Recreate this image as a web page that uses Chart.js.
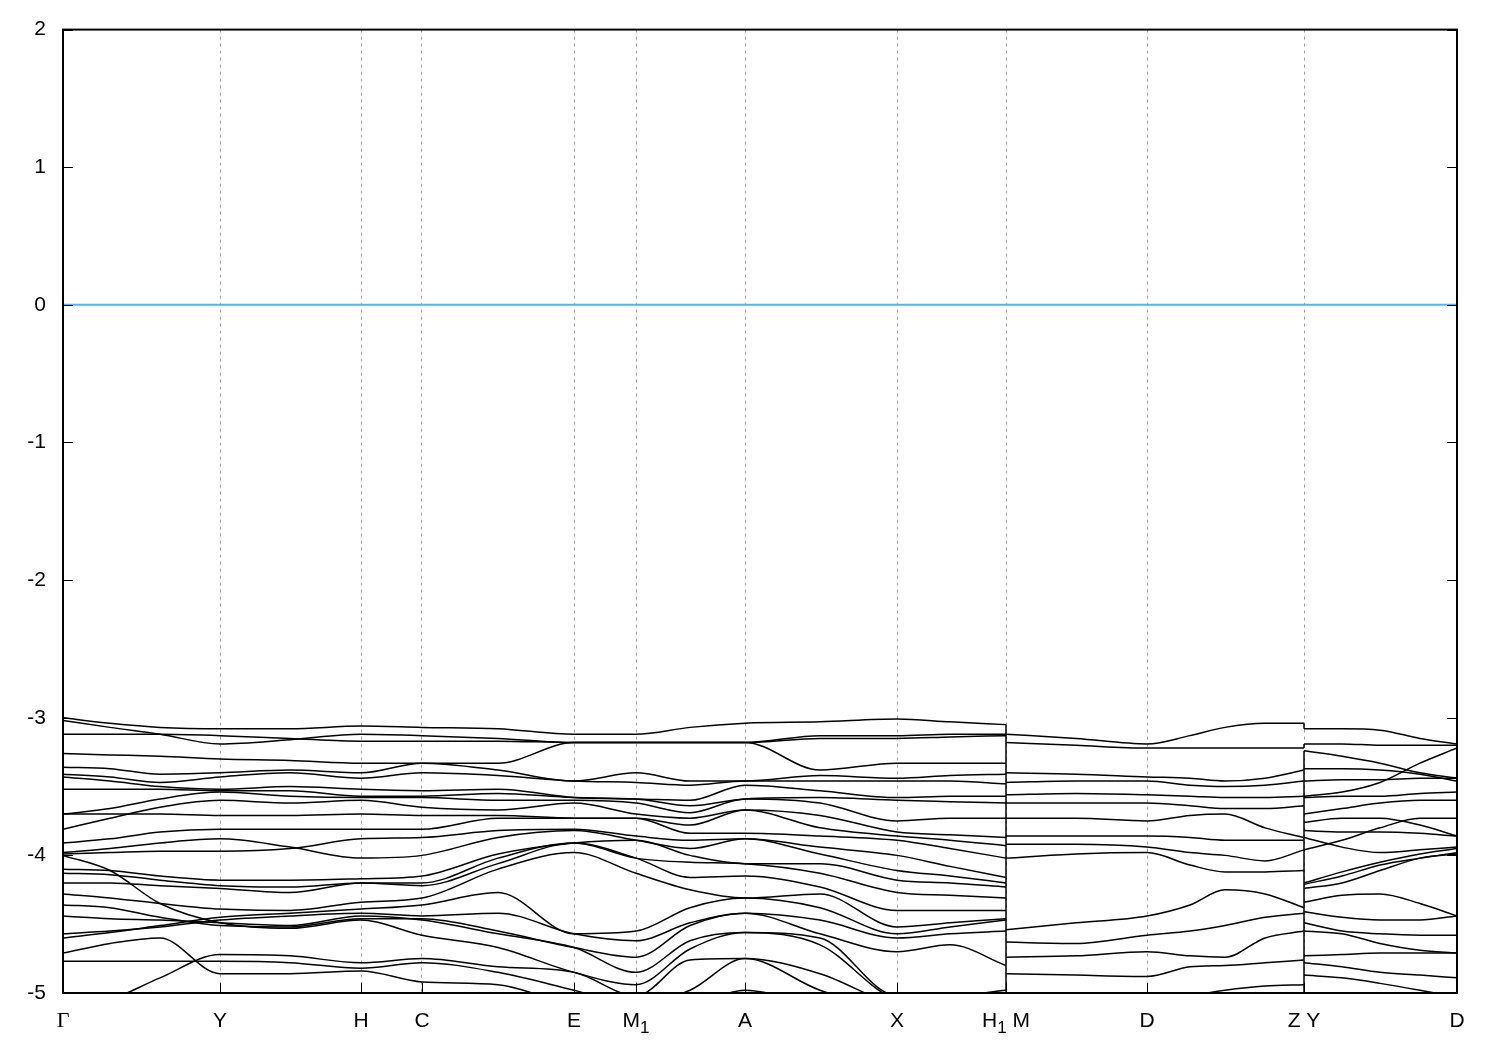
<!DOCTYPE html>
<html>
<head>
<meta charset="utf-8">
<title>Band structure</title>
<script src="https://cdn.jsdelivr.net/npm/chart.js@4.4.1/dist/chart.umd.min.js"></script>
<style>
  html, body { margin: 0; padding: 0; background: #fff; }
</style>
</head>
<body>
<canvas id="bands" width="1500" height="1050"></canvas>
<script>
// k-path distance (arbitrary units) of the sampled k-points, per continuous segment
const kSeg1 = [0, 47, 97, 157, 227, 298, 359, 435, 511, 573, 627, 682, 757, 834, 887, 943]; // Γ ... H1
const kSeg2 = [943, 1013, 1084, 1127, 1162, 1202, 1241];                                  // M ... Z
const kSeg3 = [1241, 1279, 1317, 1357, 1394];                                             // Y ... D

// high-symmetry points ("_" marks a subscript)
const kTicks = [0, 157, 298, 359, 511, 573, 682, 834, 943, 1084, 1241, 1394];
const kLabels = ['Γ', 'Y', 'H', 'C', 'E', 'M_1', 'A', 'X', 'H_1 M', 'D', 'Z Y', 'D'];
const energyTicks = [-5, -4, -3, -2, -1, 0, 1, 2];
const fermiLevel = 0;

// eigenvalues (eV), one row per k-point of segment 1
const eigSeg1 = [
  [-3.00, -3.02, -3.12, -3.26, -3.36, -3.41, -3.43, -3.52, -3.70, -3.81, -3.70, -3.91, -3.99, -3.98, -4.10, -4.13, -4.20, -4.28, -4.60, -4.57, -4.36, -4.44, -4.00, -5.13, -4.77, -4.71],
  [-3.04, -3.07, -3.12, -3.27, -3.37, -3.43, -3.46, -3.52, -3.66, -3.73, -3.70, -3.88, -3.98, -3.95, -4.11, -4.14, -4.20, -4.31, -4.56, -4.55, -4.38, -4.46, -4.11, -5.05, -4.77, -4.64],
  [-3.07, -3.12, -3.12, -3.28, -3.41, -3.47, -3.50, -3.52, -3.59, -3.65, -3.70, -3.83, -3.97, -3.91, -4.15, -4.18, -4.22, -4.35, -4.51, -4.52, -4.45, -4.47, -4.35, -4.89, -4.77, -4.60],
  [-3.08, -3.19, -3.13, -3.30, -3.40, -3.43, -3.52, -3.53, -3.54, -3.60, -3.71, -3.81, -3.97, -3.88, -4.18, -4.22, -4.24, -4.39, -4.45, -4.47, -4.51, -4.49, -4.49, -4.72, -4.77, -4.86],
  [-3.08, -3.16, -3.15, -3.31, -3.38, -3.40, -3.50, -3.53, -3.57, -3.62, -3.71, -3.81, -3.95, -3.94, -4.18, -4.23, -4.27, -4.40, -4.42, -4.44, -4.52, -4.51, -4.53, -4.73, -4.78, -4.86],
  [-3.06, -3.12, -3.17, -3.33, -3.40, -3.44, -3.52, -3.57, -3.58, -3.60, -3.70, -3.81, -3.88, -4.02, -4.17, -4.20, -4.20, -4.34, -4.39, -4.42, -4.46, -4.44, -4.47, -4.78, -4.82, -4.84],
  [-3.07, -3.13, -3.17, -3.33, -3.33, -3.40, -3.53, -3.57, -3.58, -3.65, -3.71, -3.81, -3.87, -4.00, -4.15, -4.20, -4.22, -4.31, -4.36, -4.44, -4.46, -4.47, -4.58, -4.75, -4.78, -4.92],
  [-3.08, -3.15, -3.17, -3.33, -3.38, -3.42, -3.52, -3.55, -3.60, -3.67, -3.71, -3.73, -3.82, -3.87, -3.99, -4.02, -4.06, -4.10, -4.27, -4.42, -4.55, -4.57, -4.67, -4.81, -4.85, -4.94],
  [-3.12, -3.18, -3.18, -3.18, -3.46, -3.46, -3.58, -3.58, -3.60, -3.62, -3.73, -3.73, -3.81, -3.82, -3.91, -3.91, -3.91, -3.98, -4.57, -4.57, -4.67, -4.67, -4.85, -4.85, -4.98, -5.09],
  [-3.12, -3.18, -3.18, -3.18, -3.40, -3.47, -3.59, -3.59, -3.62, -3.70, -3.73, -3.73, -3.86, -3.89, -3.89, -4.02, -4.02, -4.13, -4.55, -4.62, -4.74, -4.85, -4.94, -5.02, -5.09, -5.13],
  [-3.07, -3.18, -3.18, -3.18, -3.46, -3.49, -3.60, -3.64, -3.69, -3.73, -3.78, -3.84, -3.89, -3.95, -4.00, -4.05, -4.16, -4.25, -4.38, -4.49, -4.51, -4.62, -4.68, -4.76, -4.98, -5.09],
  [-3.04, -3.18, -3.18, -3.18, -3.46, -3.46, -3.49, -3.59, -3.59, -3.67, -3.67, -3.84, -3.88, -3.88, -4.06, -4.06, -4.15, -4.31, -4.31, -4.42, -4.42, -4.56, -4.56, -4.75, -4.75, -4.98],
  [-3.03, -3.13, -3.15, -3.38, -3.42, -3.46, -3.53, -3.58, -3.62, -3.71, -3.80, -3.86, -3.94, -3.99, -4.06, -4.13, -4.23, -4.28, -4.38, -4.47, -4.57, -4.60, -4.65, -4.86, -4.98, -5.09],
  [-3.01, -3.13, -3.15, -3.33, -3.44, -3.46, -3.58, -3.60, -3.75, -3.83, -3.86, -3.89, -4.00, -4.11, -4.18, -4.27, -4.40, -4.52, -4.57, -4.60, -4.70, -5.02, -5.05, -5.09, -5.13, -5.16],
  [-3.03, -3.12, -3.14, -3.33, -3.42, -3.46, -3.57, -3.61, -3.73, -3.85, -3.89, -3.95, -4.08, -4.15, -4.20, -4.29, -4.40, -4.49, -4.52, -4.57, -4.65, -5.02, -5.09, -5.13, -5.16, -5.18],
  [-3.05, -3.12, -3.13, -3.33, -3.41, -3.48, -3.57, -3.62, -3.73, -3.87, -3.93, -4.02, -4.16, -4.20, -4.23, -4.31, -4.40, -4.46, -4.47, -4.55, -4.80, -4.98, -5.09, -5.13, -5.16, -5.20]
];

const eigSeg2 = [
  [-3.12, -3.18, -3.40, -3.47, -3.56, -3.62, -3.73, -3.86, -3.92, -4.02, -4.54, -4.63, -4.74, -4.86, -5.05, -5.10, -5.15, -5.20, -5.25, -5.30, -5.35, -5.40, -5.45, -5.50, -5.55, -5.60],
  [-3.15, -3.20, -3.41, -3.46, -3.55, -3.62, -3.73, -3.86, -3.92, -3.99, -4.49, -4.64, -4.73, -4.87, -5.05, -5.10, -5.15, -5.20, -5.25, -5.30, -5.35, -5.40, -5.45, -5.50, -5.55, -5.60],
  [-3.19, -3.22, -3.43, -3.46, -3.56, -3.62, -3.75, -3.86, -3.94, -3.98, -4.44, -4.58, -4.70, -4.88, -5.05, -5.10, -5.15, -5.20, -5.25, -5.30, -5.35, -5.40, -5.45, -5.50, -5.55, -5.60],
  [-3.13, -3.22, -3.44, -3.49, -3.57, -3.64, -3.71, -3.87, -3.98, -4.07, -4.36, -4.55, -4.73, -4.81, -5.02, -5.10, -5.15, -5.20, -5.25, -5.30, -5.35, -5.40, -5.45, -5.50, -5.55, -5.60],
  [-3.07, -3.22, -3.46, -3.50, -3.58, -3.66, -3.70, -3.89, -4.00, -4.12, -4.25, -4.51, -4.74, -4.80, -4.98, -5.10, -5.15, -5.20, -5.25, -5.30, -5.35, -5.40, -5.45, -5.50, -5.55, -5.60],
  [-3.04, -3.22, -3.44, -3.49, -3.58, -3.66, -3.80, -3.89, -4.04, -4.12, -4.28, -4.45, -4.60, -4.78, -4.95, -5.10, -5.15, -5.20, -5.25, -5.30, -5.35, -5.40, -5.45, -5.50, -5.55, -5.60],
  [-3.04, -3.22, -3.38, -3.46, -3.57, -3.64, -3.87, -3.89, -3.96, -4.11, -4.38, -4.42, -4.55, -4.76, -4.94, -5.10, -5.15, -5.20, -5.25, -5.30, -5.35, -5.40, -5.45, -5.50, -5.55, -5.60]
];

const eigSeg3 = [
  [-3.08, -3.19, -3.24, -3.57, -3.37, -3.46, -3.58, -3.70, -3.76, -3.82, -3.87, -3.96, -4.20, -4.21, -4.24, -4.34, -4.41, -4.49, -4.55, -4.73, -4.78, -4.87, -5.10, -5.15, -5.20, -5.25],
  [-3.08, -3.19, -3.28, -3.54, -3.37, -3.45, -3.57, -3.66, -3.73, -3.83, -3.94, -3.89, -4.12, -4.15, -4.20, -4.29, -4.45, -4.55, -4.57, -4.72, -4.81, -4.89, -5.10, -5.15, -5.20, -5.25],
  [-3.09, -3.20, -3.33, -3.47, -3.38, -3.45, -3.57, -3.62, -3.73, -3.83, -3.98, -3.80, -4.05, -4.07, -4.11, -4.28, -4.47, -4.57, -4.64, -4.71, -4.85, -4.93, -5.10, -5.15, -5.20, -5.25],
  [-3.15, -3.20, -3.40, -3.33, -3.41, -3.44, -3.55, -3.60, -3.78, -3.84, -3.96, -3.73, -3.99, -4.02, -4.02, -4.35, -4.47, -4.58, -4.69, -4.71, -4.87, -4.98, -5.10, -5.15, -5.20, -5.25],
  [-3.19, -3.20, -3.44, -3.22, -3.46, -3.44, -3.54, -3.60, -3.86, -3.86, -3.94, -3.73, -3.95, -3.98, -3.99, -4.44, -4.44, -4.58, -4.71, -4.71, -4.89, -5.03, -5.10, -5.15, -5.20, -5.25]
];

const segments = [[kSeg1, eigSeg1], [kSeg2, eigSeg2], [kSeg3, eigSeg3]];
const kMax = kSeg3[kSeg3.length - 1];
const nBands = eigSeg1[0].length;

const bandStyle = {
    borderColor: '#000',
    borderWidth: 1.5,
    pointRadius: 0,
    cubicInterpolationMode: 'monotone',
    showLine: true,
    order: 0
};

// --- Datasets ---
const datasets = [];
for (let b = 0; b < nBands; b++) {
    segments.forEach(([ks, eig]) => {
        datasets.push(Object.assign({
            data: ks.map((k, i) => ({ x: k, y: eig[i][b] }))
        }, bandStyle));
    });
}

// vertical connections where the path jumps (H1|M and Z|Y)
const jumpPts = [];
for (let s = 0; s < segments.length - 1; s++) {
    const [ksA, eigA] = segments[s];
    const eigB = segments[s + 1][1];
    const k = ksA[ksA.length - 1];
    for (let b = 0; b < nBands; b++) {
        jumpPts.push({ x: k, y: eigA[eigA.length - 1][b] }, { x: k, y: eigB[0][b] }, { x: k, y: null });
    }
}
datasets.push(Object.assign({}, bandStyle, { data: jumpPts, cubicInterpolationMode: 'default', tension: 0, spanGaps: false }));

// Fermi level
datasets.push({
    data: [{ x: 0, y: fermiLevel }, { x: kMax, y: fermiLevel }],
    borderColor: '#56b4e9',
    borderWidth: 2,
    pointRadius: 0,
    showLine: true,
    order: 1
});

const sansFont = 'Liberation Sans, Arial, sans-serif';

// --- Frame, inward tick marks and k-point labels, gnuplot style ---
const frameTicks = {
    id: 'frameTicks',
    afterDatasetsDraw(chart) {
        const { ctx, chartArea: a, scales: { x, y } } = chart;
        ctx.save();
        ctx.strokeStyle = '#000';
        ctx.lineWidth = 1;
        ctx.beginPath();
        energyTicks.forEach(v => {
            const py = Math.round(y.getPixelForValue(v)) + 0.5;
            ctx.moveTo(a.left, py); ctx.lineTo(a.left + 10, py);
            ctx.moveTo(a.right - 10, py); ctx.lineTo(a.right, py);
        });
        kTicks.forEach(k => {
            const px = Math.round(x.getPixelForValue(k)) + 0.5;
            ctx.moveTo(px, a.bottom); ctx.lineTo(px, a.bottom - 10);
        });
        ctx.stroke();
        ctx.lineWidth = 2;
        ctx.strokeRect(a.left, a.top, a.right - a.left, a.bottom - a.top);

        // labels with subscripts
        ctx.fillStyle = '#000';
        ctx.textBaseline = 'alphabetic';
        ctx.textAlign = 'left';
        const base = a.bottom + 34;
        kLabels.forEach((lab, i) => {
            const parts = [];
            for (let j = 0; j < lab.length; j++) {
                if (lab[j] === '_') { parts.push({ t: lab[j + 1], sub: true }); j++; }
                else parts.push({ t: lab[j], sub: false });
            }
            const fontFor = p => p.sub ? '17px ' + sansFont
                : (p.t === 'Γ' ? '22px Liberation Serif, serif' : '21px ' + sansFont);
            let total = 0;
            parts.forEach(p => { ctx.font = fontFor(p); p.w = ctx.measureText(p.t).width; total += p.w; });
            let px = x.getPixelForValue(kTicks[i]) - total / 2;
            parts.forEach(p => {
                ctx.font = fontFor(p);
                ctx.fillText(p.t, px, p.sub ? base + 6 : base);
                px += p.w;
            });
        });
        ctx.restore();
    }
};

new Chart(document.getElementById('bands'), {
    type: 'scatter',
    data: { datasets: datasets },
    plugins: [frameTicks],
    options: {
        responsive: false,
        animation: false,
        devicePixelRatio: 1,
        layout: { padding: { left: 0, right: 43, top: 28, bottom: 0 } },
        plugins: {
            legend: { display: false },
            tooltip: { enabled: false }
        },
        scales: {
            x: {
                type: 'linear',
                min: 0,
                max: kMax,
                afterBuildTicks: scale => {
                    scale.ticks = kTicks.map(v => ({ value: v }));
                },
                afterFit: scale => { scale.height = 57; },
                border: { display: false, dash: [3, 4] },
                grid: {
                    drawTicks: false,
                    lineWidth: 1,
                    color: ctx => (ctx.tick && (ctx.tick.value === 0 || ctx.tick.value === kMax)) ? 'rgba(0,0,0,0)' : '#a0a0a0'
                },
                ticks: { display: false }
            },
            y: {
                min: -5,
                max: 2,
                afterFit: scale => { scale.width = 63; },
                border: { display: false },
                grid: { display: false, drawTicks: false },
                ticks: {
                    stepSize: 1,
                    padding: 17,
                    color: '#000',
                    font: { family: sansFont, size: 21 }
                }
            }
        }
    }
});
</script>
</body>
</html>
